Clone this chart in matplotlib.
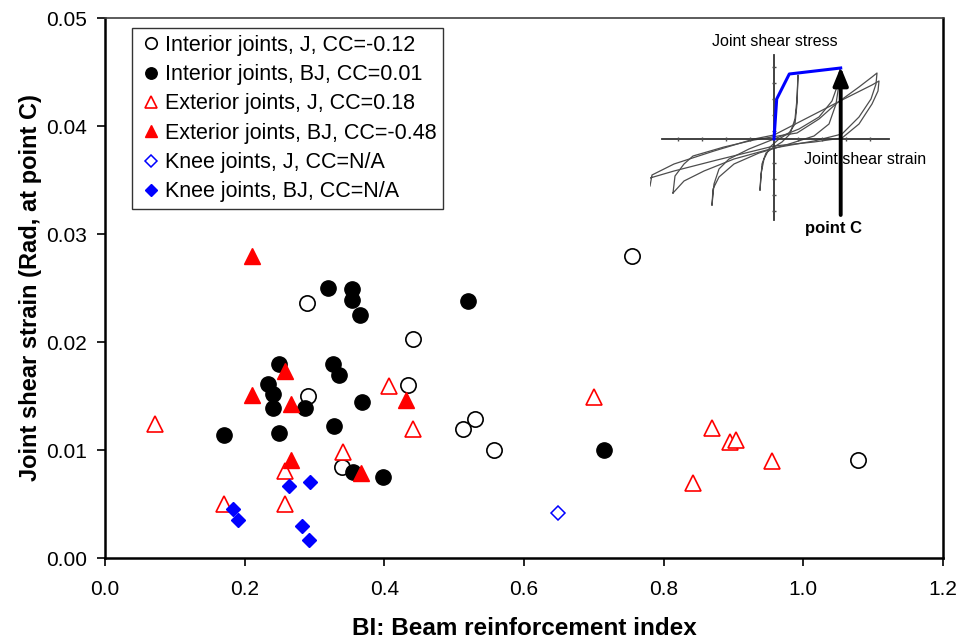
import numpy as np
import matplotlib
matplotlib.use('Agg')
import matplotlib.pyplot as plt

plt.rcParams['font.family'] = ['Liberation Sans', 'DejaVu Sans']

# Beam reinforcement index (x) and joint shear strain at point C (y)
int_j_x = [0.289, 0.755, 0.4415, 0.4335, 0.291, 0.530, 0.512, 0.557, 0.339, 1.078]
int_j_y = [0.0236, 0.0280, 0.0203, 0.0160, 0.0150, 0.0129, 0.0119, 0.0100, 0.0084, 0.0091]

int_bj_x = [0.319, 0.353, 0.353, 0.365, 0.520, 0.2496, 0.327, 0.3347, 0.234, 0.241,
            0.241, 0.2864, 0.3685, 0.1704, 0.2496, 0.328, 0.3556, 0.3985, 0.714]
int_bj_y = [0.0250, 0.0249, 0.0239, 0.0225, 0.0238, 0.0180, 0.0180, 0.0169, 0.0161, 0.0152,
            0.0139, 0.0139, 0.0144, 0.0114, 0.0116, 0.0122, 0.0080, 0.0075, 0.0100]

ext_j_x = [0.0716, 0.406, 0.441, 0.341, 0.258, 0.1704, 0.258, 0.700,
           0.8685, 0.8946, 0.9036, 0.955, 0.8415]
ext_j_y = [0.0124, 0.0159, 0.0119, 0.0098, 0.0081, 0.0050, 0.0050, 0.0149,
           0.0120, 0.0107, 0.0109, 0.0090, 0.0069]

ext_bj_x = [0.210, 0.258, 0.210, 0.267, 0.4315, 0.267, 0.3666]
ext_bj_y = [0.0280, 0.0173, 0.0151, 0.0143, 0.0146, 0.0091, 0.0079]

knee_j_x = [0.648]
knee_j_y = [0.0042]

knee_bj_x = [0.264, 0.2936, 0.183, 0.191, 0.2817, 0.2917]
knee_bj_y = [0.0067, 0.0070, 0.0045, 0.0035, 0.0030, 0.0017]

labels = ['Interior joints, J, CC=-0.12', 'Interior joints, BJ, CC=0.01',
          'Exterior joints, J, CC=0.18', 'Exterior joints, BJ, CC=-0.48',
          'Knee joints, J, CC=N/A', 'Knee joints, BJ, CC=N/A']

xticks = [0.0, 0.2, 0.4, 0.6, 0.8, 1.0, 1.2]
yticks = [0.00, 0.01, 0.02, 0.03, 0.04, 0.05]

# inset sketch: hysteresis loops (stress vs strain, arbitrary units)
loop_a = [(-14, -51), (-13, -35), (-10, -20), (-4, -8), (5, 0), (15, 6), (21, 15), (23, 35), (24, 64),
          (23, 40), (21, 20), (16, 5), (8, -3), (0, -8), (-8, -14), (-12, -25), (-14, -51)]
loop_b = [(-62, -66), (-60, -45), (-55, -30), (-45, -20), (-25, -10), (0, 0), (25, 10), (45, 22),
          (58, 38), (64, 55), (66, 71), (65, 55), (62, 35), (55, 15), (40, 3), (15, -5),
          (-15, -14), (-40, -25), (-55, -38), (-61, -50), (-62, -66)]
loop_c = [(-101, -54), (-99, -37), (-90, -25), (-81, -17), (-50, -8), (-20, -1), (10, 4), (23, 6),
          (45, 20), (63, 36), (85, 52), (98, 62), (103, 66), (102, 55), (97, 40), (85, 22),
          (68, 5), (40, -2), (0, -9), (-40, -20), (-70, -32), (-90, -42), (-101, -54)]
loop_d = [(-124, -47), (-122, -36), (-100, -25), (-60, -12), (-20, 0), (0, 4), (35, 22), (70, 40),
          (98, 54), (105, 58), (104, 48), (98, 35), (85, 15), (68, 1), (40, -3), (0, -7),
          (-57, -21), (-100, -32), (-124, -39)]
envelope_x = [0, 2.7, 15.3, 66.7]
envelope_y = [0, 40, 65, 71]
point_c = (66.7, 72)

fig = plt.figure(figsize=(9.64, 6.44), dpi=100)
ax = fig.add_axes([105/964, 1 - 558/644, 838/964, 540/644])

ms = 11
ax.plot(int_j_x, int_j_y, 'o', ms=ms, mfc='white', mec='black', mew=1.2, label=labels[0])
ax.plot(int_bj_x, int_bj_y, 'o', ms=ms, mfc='black', mec='black', label=labels[1])
ax.plot(ext_j_x, ext_j_y, '^', ms=ms, mfc='white', mec='red', mew=1.2, label=labels[2])
ax.plot(ext_bj_x, ext_bj_y, '^', ms=ms, mfc='red', mec='red', label=labels[3])
ax.plot(knee_j_x, knee_j_y, 'D', ms=7.5, mfc='white', mec='blue', mew=1.1, label=labels[4])
ax.plot(knee_bj_x, knee_bj_y, 'D', ms=7.5, mfc='blue', mec='blue', label=labels[5])

ax.set_xlim(0, 1.2)
ax.set_ylim(0, 0.05)
ax.set_xticks(xticks)
ax.set_xticklabels(['%.1f' % v for v in xticks])
ax.set_yticks(yticks)
ax.set_yticklabels(['%.2f' % v for v in yticks])
ax.tick_params(direction='out', length=6, width=1.2, labelsize=15, pad=7)
ax.tick_params(axis='x', pad=10)
for s in ['left', 'bottom', 'right']:
    ax.spines[s].set_linewidth(1.8)
ax.spines['top'].set_linewidth(1.2)
ax.spines['top'].set_color('0.25')

ax.set_xlabel('BI: Beam reinforcement index', fontsize=17.5, fontweight='bold', labelpad=13)
ax.set_ylabel('Joint shear strain (Rad, at point C)', fontsize=17, fontweight='bold', labelpad=3)

leg = ax.legend(loc='upper left', bbox_to_anchor=(27/838, 530/540), fontsize=15.5,
                frameon=True, fancybox=False, framealpha=1, edgecolor='0.2',
                handlelength=1.15, handletextpad=0.05, labelspacing=0.385,
                borderpad=0.32, markerscale=0.75, borderaxespad=0)
leg.get_frame().set_linewidth(1.0)

# inset with the hysteresis sketch
ins = fig.add_axes([650/964, 1 - 240/644, 240/964, 210/644])
ins.set_xlim(-124, 116)
ins.set_ylim(-101, 109)
ins.axis('off')
for lp in [loop_a, loop_b, loop_c, loop_d]:
    pts = np.array(lp)
    ins.plot(pts[:, 0], pts[:, 1], color='0.3', lw=0.9)
ins.plot([-112, 115], [0, 0], color='0.2', lw=1.3)
ins.plot([0, 0], [-81, 84], color='0.2', lw=1.3)
ins.plot([-96, -72, -48, -24, 24, 48, 72, 96], [0] * 8, '|', color='0.3', ms=3)
ins.plot([0] * 10, [-72, -56, -40, -24, -8, 8, 24, 40, 56, 72], '_', color='0.3', ms=3)
ins.plot(envelope_x, envelope_y, color='blue', lw=2.2)
ins.annotate('', xy=point_c, xytext=(point_c[0], -76),
             arrowprops=dict(arrowstyle='-|>,head_width=0.45,head_length=1.1',
                             color='black', lw=2.8, shrinkA=0, shrinkB=0))
ins.text(0.7, 97, 'Joint shear stress', fontsize=11.5, ha='center', va='center')
ins.text(30, -21, 'Joint shear strain', fontsize=11.5, ha='left', va='center')
ins.text(31, -90, 'point C', fontsize=12, fontweight='bold', ha='left', va='center')

plt.savefig('out.png', dpi=100)
